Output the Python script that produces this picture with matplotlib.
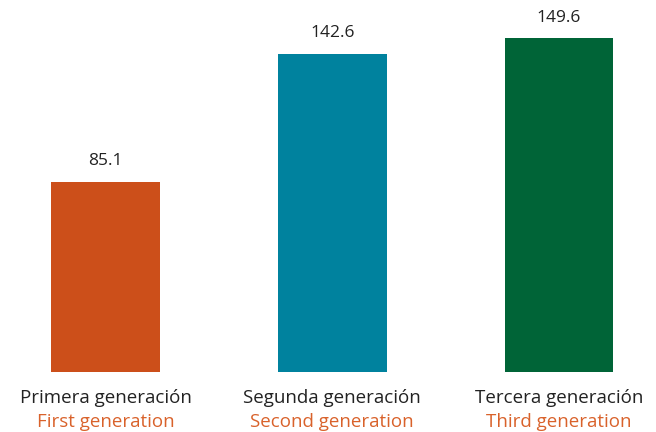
import matplotlib
matplotlib.use("Agg")
import matplotlib.pyplot as plt

categories_es = ["Primera generación", "Segunda generación", "Tercera generación"]
categories_en = ["First generation", "Second generation", "Third generation"]
values = [85.1, 142.6, 149.6]
colors = ["#CC4F1A", "#00829E", "#006437"]

plt.rcParams['font.family'] = ['Open Sans', 'DejaVu Sans']

fig = plt.figure(figsize=(6.56, 4.32), dpi=100)
ax = fig.add_axes([0, 60/432, 1, 372/432])
x = list(range(len(values)))
bars = ax.bar(x, values, width=0.48, color=colors)
ax.set_xlim(-0.465, 2.428)
ax.set_ylim(0, 166.8)
ax.axis('off')

for xi, v in zip(x, values):
    ax.annotate(f"{v:.1f}", (xi, v), xytext=(0, 15), textcoords='offset points',
                ha='center', va='center', fontsize=12.5, color='#222222')

for xi, es, en in zip(x, categories_es, categories_en):
    ax.annotate(es, (xi, 0), xytext=(0, -19), textcoords='offset points',
                ha='center', va='center', fontsize=13.5, color='#222222', annotation_clip=False)
    ax.annotate(en, (xi, 0), xytext=(0, -36), textcoords='offset points',
                ha='center', va='center', fontsize=13.5, color='#D9622B', annotation_clip=False)

fig.savefig("out.png", dpi=100)
